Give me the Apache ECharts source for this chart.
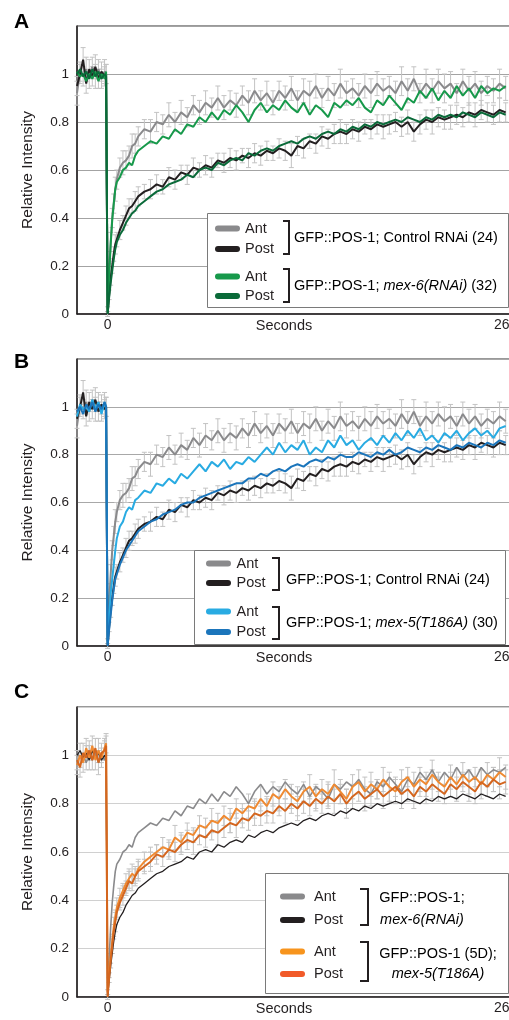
<!DOCTYPE html>
<html>
<head>
<meta charset="utf-8">
<script src="https://cdn.jsdelivr.net/npm/echarts@6/dist/echarts.min.js"></script>
<style>
  html, body { margin: 0; padding: 0; background: #fff; overflow: hidden; }
  #chart { width: 530px; height: 1020px; }
</style>
</head>
<body>
<div id="chart"></div>
<script>
// seconds relative to bleach
var time = [-20,-18,-16,-14,-12,-10,-8,-6,-4,-2,-1,0,1,2,3,4,5,6,8,10,12,14,16,18,20,
  24,28,32,36,40,44,48,52,56,60,64,68,72,76,80,84,88,92,96,100,104,108,112,116,120,
  124,128,132,136,140,144,148,152,156,160,164,168,172,176,180,184,188,192,196,200,
  204,208,212,216,220,224,228,232,236,240,244,248,252,256,260];

// GFP::POS-1; Control RNAi (24)
var ctrlAnt = [0.92,1.01,0.99,1.02,0.98,1.03,0.99,1.02,0.98,1.01,1.00, 0.02,
  0.18,0.30,0.40,0.46,0.52,0.56,0.61,0.63,0.64,0.66,0.70,0.71,0.74,
  0.77,0.76,0.80,0.79,0.83,0.80,0.84,0.82,0.87,0.84, 0.88,0.86,0.90,0.86,0.89,0.87,0.91,0.88,0.93,0.89,
  0.92,0.88,0.93,0.90,0.94,0.89,0.93,0.91,0.95,0.90, 0.94,0.91,0.96,0.92,0.94,0.91,0.95,0.92,0.96,0.93,
  0.95,0.92,0.97,0.93,0.98,0.92,0.96,0.93,0.97,0.94, 0.96,0.92,0.97,0.93,0.96,0.92,0.95,0.93,0.96,0.94];
var ctrlPost = [0.95,1.00,1.06,0.96,1.02,0.99,1.03,0.98,1.01,0.99,1.00, 0.00,
  0.08,0.15,0.20,0.25,0.29,0.31,0.35,0.38,0.41,0.44,0.45,0.47,0.49,
  0.51,0.52,0.54,0.53,0.57,0.56,0.59,0.58,0.61,0.60, 0.62,0.61,0.64,0.63,0.65,0.64,0.66,0.65,0.67,0.66,
  0.68,0.67,0.69,0.68,0.66,0.70,0.69,0.72,0.71,0.74, 0.73,0.75,0.76,0.75,0.77,0.76,0.78,0.77,0.79,0.78,
  0.79,0.80,0.78,0.80,0.76,0.79,0.81,0.80,0.82,0.81, 0.82,0.83,0.82,0.84,0.83,0.85,0.84,0.83,0.85,0.84];
var ctrlAntErr = [0.05,0.04,0.04,0.05,0.04,0.04,0.05,0.04,0.04,0.05,0.04, 0.01,
  0.03,0.04,0.04,0.04,0.05,0.04,0.04,0.05,0.04,0.04,0.05,0.04,0.04,
  0.04,0.05,0.04,0.04,0.05,0.04,0.05,0.04,0.04,0.05, 0.05,0.04,0.05,0.05,0.04,0.05,0.04,0.05,0.05,0.04,
  0.05,0.05,0.04,0.05,0.05,0.04,0.05,0.06,0.05,0.04, 0.05,0.05,0.06,0.05,0.04,0.05,0.05,0.06,0.05,0.05,
  0.04,0.05,0.06,0.05,0.05,0.04,0.06,0.05,0.05,0.06, 0.05,0.04,0.05,0.06,0.05,0.05,0.04,0.05,0.06,0.05];
var ctrlPostErr = [0.04,0.04,0.05,0.04,0.04,0.04,0.05,0.04,0.04,0.04,0.04, 0.01,
  0.02,0.03,0.03,0.03,0.04,0.03,0.04,0.03,0.04,0.04,0.03,0.04,0.04,
  0.03,0.04,0.04,0.03,0.04,0.04,0.03,0.04,0.04,0.03, 0.04,0.04,0.03,0.04,0.04,0.04,0.03,0.04,0.04,0.04,
  0.04,0.03,0.04,0.04,0.05,0.04,0.04,0.03,0.04,0.04, 0.04,0.04,0.05,0.04,0.04,0.04,0.03,0.04,0.04,0.05,
  0.04,0.04,0.04,0.05,0.04,0.04,0.04,0.05,0.04,0.04, 0.05,0.04,0.04,0.04,0.05,0.04,0.04,0.04,0.05,0.04];

// GFP::POS-1; mex-6(RNAi) (32)
var mex6Ant = [1.01,0.99,1.00,0.97,1.00,0.98,1.01,0.97,1.00,0.98,1.01, 0.01,
  0.16,0.29,0.39,0.46,0.52,0.55,0.57,0.60,0.61,0.63,0.62,0.66,0.68,
  0.70,0.72,0.71,0.74,0.73,0.77,0.75,0.79,0.78,0.82, 0.80,0.84,0.81,0.85,0.83,0.87,0.84,0.80,0.85,0.88,
  0.84,0.87,0.85,0.89,0.86,0.84,0.88,0.83,0.87,0.85, 0.82,0.88,0.86,0.89,0.87,0.90,0.86,0.84,0.89,0.87,
  0.91,0.88,0.85,0.90,0.88,0.93,0.90,0.94,0.89,0.93, 0.90,0.95,0.91,0.94,0.90,0.95,0.92,0.94,0.93,0.95];
var mex6Post = [1.00,1.02,0.99,1.01,0.98,1.02,0.99,1.01,0.98,1.00,0.99, 0.00,
  0.07,0.13,0.18,0.23,0.27,0.30,0.33,0.35,0.38,0.40,0.42,0.43,0.45,
  0.47,0.49,0.51,0.52,0.54,0.55,0.56,0.58,0.57,0.60, 0.61,0.60,0.63,0.62,0.64,0.65,0.64,0.67,0.66,0.68,
  0.69,0.68,0.70,0.71,0.72,0.71,0.73,0.74,0.73,0.75, 0.76,0.75,0.77,0.76,0.78,0.77,0.79,0.78,0.80,0.79,
  0.80,0.81,0.80,0.82,0.81,0.80,0.82,0.81,0.83,0.82, 0.83,0.82,0.84,0.83,0.82,0.84,0.83,0.82,0.84,0.83];

// GFP::POS-1; mex-5(T186A) (30)
var t186Ant = [0.96,1.01,0.99,1.00,0.98,1.03,0.99,1.02,0.97,1.02,1.00, 0.01,
  0.12,0.22,0.28,0.34,0.40,0.45,0.50,0.52,0.56,0.58,0.57,0.61,0.62,
  0.65,0.64,0.68,0.67,0.70,0.68,0.72,0.70,0.73,0.76, 0.73,0.77,0.75,0.78,0.74,0.77,0.76,0.79,0.77,0.80,
  0.83,0.80,0.85,0.81,0.84,0.82,0.86,0.80,0.83,0.81, 0.86,0.83,0.88,0.84,0.86,0.82,0.85,0.87,0.84,0.88,
  0.85,0.89,0.86,0.90,0.87,0.91,0.86,0.88,0.85,0.89, 0.87,0.90,0.86,0.89,0.91,0.88,0.90,0.87,0.91,0.92];
var t186Post = [0.98,1.00,0.97,1.01,0.99,1.02,0.98,1.01,0.99,1.02,1.00, 0.00,
  0.07,0.13,0.19,0.24,0.28,0.30,0.34,0.37,0.40,0.42,0.44,0.46,0.48,
  0.50,0.52,0.53,0.55,0.56,0.57,0.59,0.60,0.60,0.62, 0.63,0.64,0.65,0.66,0.67,0.68,0.68,0.70,0.70,0.72,
  0.71,0.73,0.74,0.73,0.75,0.76,0.75,0.77,0.78,0.77, 0.79,0.78,0.80,0.79,0.79,0.81,0.80,0.79,0.81,0.80,
  0.82,0.80,0.81,0.83,0.82,0.81,0.83,0.82,0.84,0.83, 0.82,0.84,0.83,0.85,0.84,0.83,0.85,0.84,0.86,0.85];

// GFP::POS-1 (5D); mex-5(T186A)
var c5dAnt = [0.96,1.00,0.97,1.03,0.99,1.04,0.98,1.02,0.99,1.03,1.05, 0.02,
  0.10,0.17,0.23,0.29,0.33,0.37,0.41,0.44,0.47,0.49,0.51,0.50,0.53,
  0.56,0.58,0.60,0.62,0.61,0.66,0.64,0.68,0.67,0.71, 0.70,0.73,0.72,0.75,0.73,0.78,0.76,0.79,0.78,0.82,
  0.79,0.84,0.82,0.86,0.83,0.81,0.85,0.87,0.83,0.86, 0.84,0.88,0.85,0.82,0.87,0.89,0.85,0.88,0.86,0.90,
  0.87,0.85,0.89,0.91,0.87,0.90,0.88,0.92,0.89,0.87, 0.91,0.88,0.92,0.89,0.91,0.88,0.92,0.90,0.93,0.91];
var c5dPost = [0.98,0.95,1.01,0.99,1.02,0.98,1.03,0.97,1.01,1.02,1.04, 0.00,
  0.08,0.15,0.21,0.27,0.31,0.35,0.39,0.42,0.45,0.48,0.47,0.50,0.52,
  0.54,0.56,0.59,0.58,0.61,0.60,0.63,0.65,0.64,0.67, 0.66,0.69,0.68,0.70,0.72,0.71,0.74,0.73,0.76,0.75,
  0.77,0.76,0.79,0.77,0.80,0.78,0.81,0.79,0.82,0.80, 0.83,0.81,0.84,0.80,0.83,0.85,0.82,0.84,0.86,0.83,
  0.85,0.87,0.84,0.86,0.83,0.87,0.85,0.88,0.86,0.84, 0.88,0.86,0.89,0.87,0.85,0.89,0.87,0.90,0.88,0.89];
var c5dAntErr = [0.04,0.05,0.04,0.04,0.05,0.04,0.04,0.05,0.04,0.04,0.04, 0.01,
  0.02,0.03,0.03,0.04,0.03,0.04,0.04,0.03,0.04,0.04,0.04,0.03,0.04,
  0.04,0.04,0.03,0.04,0.04,0.05,0.04,0.04,0.03,0.04, 0.04,0.05,0.04,0.04,0.05,0.04,0.04,0.05,0.04,0.05,
  0.04,0.05,0.05,0.04,0.05,0.06,0.04,0.05,0.05,0.04, 0.05,0.06,0.05,0.04,0.05,0.05,0.06,0.05,0.04,0.05,
  0.06,0.05,0.05,0.04,0.06,0.05,0.05,0.06,0.04,0.05, 0.05,0.06,0.05,0.05,0.04,0.06,0.05,0.05,0.06,0.05];
var c5dPostErr = [0.04,0.04,0.04,0.05,0.04,0.04,0.04,0.05,0.04,0.04,0.04, 0.01,
  0.02,0.03,0.03,0.03,0.04,0.03,0.03,0.04,0.03,0.04,0.03,0.04,0.04,
  0.03,0.04,0.04,0.04,0.03,0.04,0.04,0.04,0.05,0.04, 0.04,0.04,0.05,0.04,0.04,0.05,0.04,0.04,0.05,0.04,
  0.05,0.04,0.04,0.05,0.04,0.05,0.05,0.04,0.05,0.04, 0.05,0.05,0.04,0.06,0.05,0.04,0.05,0.05,0.04,0.05,
  0.05,0.04,0.06,0.05,0.05,0.04,0.05,0.06,0.05,0.04, 0.05,0.05,0.04,0.06,0.05,0.05,0.04,0.05,0.06,0.05];

var yLabels = [0, 0.2, 0.4, 0.6, 0.8, 1];
var xLabels = [0, 260];

var FONT = "'Liberation Sans', Arial, Helvetica, sans-serif";
var INK = '#231f20';

var col = {
  gray: '#8a8a8c', black: '#231f20',
  green: '#17994b', dkgreen: '#0a6a39',
  blue: '#29abe2', dkblue: '#1b75bb',
  orange: '#ef8a32', dkorange: '#d4661f',
  orangeKey: '#f7941d', redKey: '#f15a29',
  err: '#c3c3c3'
};

function pairs(v) {
  return time.map(function (t, i) { return [t, v[i]]; });
}
function bars(v, e) {
  return time.map(function (t, i) { return [t, v[i] - e[i], v[i] + e[i]]; });
}

function errRender(params, api) {
  var t = api.value(0);
  var lo = api.coord([t, api.value(1)]);
  var hi = api.coord([t, api.value(2)]);
  var st = { stroke: col.err, lineWidth: 1 };
  return {
    type: 'group',
    children: [
      { type: 'line', shape: { x1: lo[0], y1: lo[1], x2: hi[0], y2: hi[1] }, style: st },
      { type: 'line', shape: { x1: hi[0] - 2.5, y1: hi[1], x2: hi[0] + 2.5, y2: hi[1] }, style: st },
      { type: 'line', shape: { x1: lo[0] - 2.5, y1: lo[1], x2: lo[0] + 2.5, y2: lo[1] }, style: st }
    ]
  };
}

function errSeries(idx, v, e) {
  return {
    type: 'custom', xAxisIndex: idx, yAxisIndex: idx, silent: true, z: 1,
    renderItem: errRender, encode: { x: 0, y: [1, 2] }, data: bars(v, e)
  };
}
function lineSeries(idx, name, v, color, width) {
  return {
    type: 'line', name: name, xAxisIndex: idx, yAxisIndex: idx,
    data: pairs(v), symbol: 'none', color: color,
    lineStyle: { color: color, width: width }, z: 2, silent: true
  };
}

var grids = [
  { left: 77, top: 26, width: 444, height: 288 },
  { left: 77, top: 359, width: 444, height: 287 },
  { left: 77, top: 707, width: 444, height: 290 }
];
var gridColor = ['#a3a3a3', '#a8a8a8', '#d0d0d0'];

var xAxes = [], yAxes = [];
grids.forEach(function (g, i) {
  g.show = true; g.borderColor = '#333'; g.borderWidth = 1;
  xAxes.push({
    type: 'value', gridIndex: i, min: -20, max: 270,
    name: 'Seconds', nameLocation: 'middle', nameGap: 4, nameMoveOverlap: false,
    nameTextStyle: { fontFamily: FONT, fontSize: 14.5, color: INK, padding: [0, 30, 0, 0] },
    axisLine: { onZero: false, lineStyle: { color: INK, width: 1.5 } },
    axisTick: { show: false },
    splitLine: { show: false },
    axisLabel: { customValues: xLabels, fontFamily: FONT, fontSize: 14, color: INK, margin: 4 }
  });
  yAxes.push({
    type: 'value', gridIndex: i, min: 0, max: 1.2, interval: 0.2,
    name: 'Relative Intensity', nameLocation: 'middle', nameGap: 41, nameMoveOverlap: false,
    nameTextStyle: { fontFamily: FONT, fontSize: 15.5, color: INK },
    axisLine: { show: true, onZero: false, lineStyle: { color: INK, width: 1.5 } },
    axisTick: { show: false },
    splitLine: { lineStyle: { color: gridColor[i], width: 1 } },
    axisLabel: { customValues: yLabels, fontFamily: FONT, fontSize: 13.5, color: INK, margin: 8 }
  });
});

var series = [
  // A
  errSeries(0, ctrlAnt, ctrlAntErr),
  errSeries(0, ctrlPost, ctrlPostErr),
  lineSeries(0, 'a1 Ant', ctrlAnt, col.gray, 2),
  lineSeries(0, 'a1 Post', ctrlPost, col.black, 2),
  lineSeries(0, 'a2 Ant', mex6Ant, col.green, 2),
  lineSeries(0, 'a2 Post', mex6Post, col.dkgreen, 2),
  // B
  errSeries(1, ctrlAnt, ctrlAntErr),
  errSeries(1, ctrlPost, ctrlPostErr),
  lineSeries(1, 'b1 Ant', ctrlAnt, col.gray, 2),
  lineSeries(1, 'b1 Post', ctrlPost, col.black, 2),
  lineSeries(1, 'b2 Ant', t186Ant, col.blue, 2),
  lineSeries(1, 'b2 Post', t186Post, col.dkblue, 2),
  // C
  errSeries(2, c5dAnt, c5dAntErr),
  errSeries(2, c5dPost, c5dPostErr),
  lineSeries(2, 'c1 Ant', mex6Ant, col.gray, 1.6),
  lineSeries(2, 'c1 Post', mex6Post, col.black, 1.3),
  lineSeries(2, 'c2 Ant', c5dAnt, col.orange, 2),
  lineSeries(2, 'c2 Post', c5dPost, col.dkorange, 2)
];

var ICON = 'path://M3,0H22A3,3,0,0,1,22,6H3A3,3,0,0,1,3,0Z';
function key(left, top, gap, w, names, colors) {
  return {
    orient: 'vertical', left: left, top: top, padding: 0, itemGap: gap,
    itemWidth: w, itemHeight: 6, icon: ICON, z: 20, selectedMode: false,
    textStyle: { fontFamily: FONT, fontSize: 14.5, color: INK },
    formatter: function (n) { return n.split(' ')[1]; },
    data: names.map(function (n, i) { return { name: n, itemStyle: { color: colors[i] } }; })
  };
}
var legends = [
  key(215, 221, 5.5, 25, ['a1 Ant', 'a1 Post'], [col.gray, col.black]),
  key(215, 269, 4.5, 25, ['a2 Ant', 'a2 Post'], [col.green, col.dkgreen]),
  key(206, 556, 4.5, 26, ['b1 Ant', 'b1 Post'], [col.gray, col.black]),
  key(206, 604, 5.5, 26, ['b2 Ant', 'b2 Post'], [col.blue, col.dkblue]),
  key(280, 889, 8.5, 33, ['c1 Ant', 'c1 Post'], [col.gray, col.black]),
  key(280, 944, 7.5, 33, ['c2 Ant', 'c2 Post'], [col.orangeKey, col.redKey])
];

var rich = {
  a: { fontFamily: FONT, fontSize: 14.5, color: INK },
  i: { fontFamily: FONT, fontSize: 14.5, color: INK, fontStyle: 'italic' },
  g: { fontFamily: FONT, fontSize: 14.5, color: '#808080' }
};
function box(x, y, w, h) {
  return { type: 'rect', z: 10, shape: { x: x, y: y, width: w, height: h },
    style: { fill: '#fff', stroke: '#7a7a7a', lineWidth: 1 } };
}
function bracket(x, y1, y2, arm) {
  return { type: 'polyline', z: 21,
    shape: { points: [[x - arm, y1], [x, y1], [x, y2], [x - arm, y2]] },
    style: { stroke: INK, lineWidth: 2, fill: null } };
}
function label(x, y, txt, align) {
  return { type: 'text', z: 21, x: x, y: y,
    style: { text: txt, rich: rich, align: align || 'left', verticalAlign: 'middle' } };
}
function letter(y, txt) {
  return { type: 'text', z: 21, x: 14, y: y,
    style: { text: txt, fontFamily: FONT, fontSize: 21, fontWeight: 'bold', fill: '#000', verticalAlign: 'middle' } };
}

var graphics = [
  letter(22, 'A'), letter(362, 'B'), letter(692, 'C'),
  // A key
  box(207.5, 213.5, 301, 94),
  bracket(289, 221, 254, 6), bracket(289, 269, 302, 6),
  label(294, 238, '{a|GFP::POS-1; Control RNAi }{g|(24)}'),
  label(294, 286, '{a|GFP::POS-1; }{i|mex-6(RNAi)}{g| (32)}'),
  // B key
  box(194.5, 550.5, 311, 94),
  bracket(279, 558, 590, 7), bracket(279, 607, 639, 7),
  label(286, 580, '{a|GFP::POS-1; Control RNAi }{g|(24)}'),
  label(286, 623, '{a|GFP::POS-1; }{i|mex-5(T186A)}{g| (30)}'),
  // C key
  box(265.5, 873.5, 243, 120),
  bracket(368, 889, 925, 8), bracket(368, 942, 981, 8),
  label(422, 898, '{a|GFP::POS-1;}', 'center'),
  label(422, 920, '{i|mex-6(RNAi)}', 'center'),
  label(438, 954, '{a|GFP::POS-1 (5D);}', 'center'),
  label(438, 974, '{i|mex-5(T186A)}', 'center')
];

var myChart = echarts.init(document.getElementById('chart'));
myChart.setOption({
  animation: false,
  backgroundColor: '#fff',
  grid: grids,
  xAxis: xAxes,
  yAxis: yAxes,
  legend: legends,
  series: series,
  graphic: graphics
});
</script>
</body>
</html>
